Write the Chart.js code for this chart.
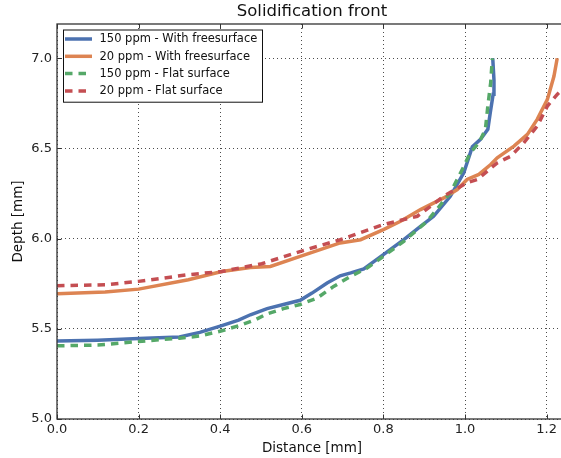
<!DOCTYPE html>
<html><head><meta charset="utf-8">
<style>
html,body{margin:0;padding:0;overflow:hidden;background:#fff;width:561px;height:458px}
#wrap{width:567px;height:458px}
canvas{display:block}
</style>
<script src="https://cdn.jsdelivr.net/npm/chart.js@4.4.1/dist/chart.umd.min.js"></script>
</head><body><div id="wrap"><canvas id="c" width="567" height="458"></canvas></div>
<script>
// ---- data ----
const chartTitle = 'Solidification front';
const xAxisLabel = 'Distance [mm]';
const yAxisLabel = 'Depth [mm]';
const seriesNames = ['150 ppm - With freesurface', '20 ppm - With freesurface', '150 ppm - Flat surface', '20 ppm - Flat surface'];
const xTickValues = [0.0, 0.2, 0.4, 0.6, 0.8, 1.0, 1.2];
const yTickValues = [5.0, 5.5, 6.0, 6.5, 7.0];

const free150X = [0, 0.1, 0.2, 0.3, 0.35, 0.404, 0.445, 0.474, 0.515, 0.555, 0.596, 0.625, 0.662, 0.694, 0.72, 0.752, 0.80, 0.85, 0.891, 0.923, 0.964, 0.997, 1.018, 1.038, 1.056, 1.062, 1.069, 1.071, 1.068];
const free150Y = [5.433, 5.437, 5.446, 5.455, 5.48, 5.518, 5.548, 5.578, 5.612, 5.635, 5.658, 5.698, 5.754, 5.794, 5.81, 5.832, 5.911, 5.994, 6.068, 6.124, 6.235, 6.365, 6.51, 6.55, 6.606, 6.70, 6.80, 6.88, 7.0];

const free20X = [0, 0.118, 0.2, 0.322, 0.404, 0.474, 0.523, 0.596, 0.694, 0.744, 0.80, 0.842, 0.891, 0.948, 0.981, 1.005, 1.034, 1.063, 1.079, 1.12, 1.153, 1.177, 1.202, 1.218, 1.226];
const free20Y = [5.694, 5.704, 5.72, 5.772, 5.818, 5.84, 5.846, 5.902, 5.976, 5.994, 6.05, 6.096, 6.161, 6.226, 6.272, 6.328, 6.356, 6.411, 6.448, 6.513, 6.578, 6.661, 6.772, 6.90, 7.0];

const flat150X = [0, 0.1, 0.2, 0.3, 0.35, 0.404, 0.445, 0.486, 0.515, 0.555, 0.596, 0.637, 0.678, 0.719, 0.76, 0.80, 0.85, 0.907, 0.964, 0.997, 1.013, 1.034, 1.05, 1.056, 1.063, 1.067];
const flat150Y = [5.406, 5.41, 5.43, 5.448, 5.46, 5.489, 5.517, 5.55, 5.583, 5.612, 5.635, 5.67, 5.735, 5.79, 5.837, 5.902, 5.985, 6.096, 6.254, 6.40, 6.476, 6.531, 6.606, 6.735, 6.865, 7.0];

const flat20X = [0, 0.118, 0.2, 0.322, 0.404, 0.502, 0.605, 0.694, 0.80, 0.883, 0.948, 1.005, 1.03, 1.079, 1.112, 1.144, 1.177, 1.202, 1.226, 1.25];
const flat20Y = [5.739, 5.744, 5.763, 5.80, 5.818, 5.861, 5.935, 5.994, 6.078, 6.124, 6.235, 6.31, 6.328, 6.42, 6.457, 6.531, 6.624, 6.735, 6.80, 6.85];

// ---- styles ----
const FONT = "'DejaVu Sans', 'Liberation Sans', sans-serif";
const seriesColors = ['#4c72b0', '#dd8452', '#55a868', '#c44e52'];
const dashPattern = [7.5, 6];
const frameColor = '#333';

const toPts = (xs, ys) => xs.map((x, i) => ({x: x, y: ys[i]}));
const seriesData = [toPts(free150X, free150Y), toPts(free20X, free20Y), toPts(flat150X, flat150Y), toPts(flat20X, flat20Y)];
const seriesDashed = [false, false, true, true];

const datasets = seriesData.map((d, i) => ({
  label: seriesNames[i],
  data: d,
  showLine: true,
  borderColor: seriesColors[i],
  backgroundColor: seriesColors[i],
  borderWidth: 3.5,
  borderDash: seriesDashed[i] ? dashPattern : [],
  pointRadius: 0,
  pointHoverRadius: 0,
  tension: 0,
  fill: false,
  order: 3 - i
}));

const framePlugin = {
  id: 'frame',
  afterDatasetsDraw(chart) {
    const {ctx, chartArea: a, scales} = chart;
    ctx.save();
    ctx.strokeStyle = frameColor;
    ctx.lineWidth = 1.3;
    ctx.setLineDash([]);
    ctx.strokeRect(a.left, a.top, a.right - a.left, a.bottom - a.top);
    ctx.lineWidth = 1;
    const tl = 4.5;
    scales.x.ticks.forEach(t => {
      const px = Math.round(scales.x.getPixelForValue(t.value)) + 0.5;
      ctx.beginPath();
      ctx.moveTo(px, a.bottom); ctx.lineTo(px, a.bottom - tl);
      ctx.moveTo(px, a.top); ctx.lineTo(px, a.top + tl);
      ctx.stroke();
    });
    scales.y.ticks.forEach(t => {
      const py = Math.round(scales.y.getPixelForValue(t.value)) + 0.5;
      ctx.beginPath();
      ctx.moveTo(a.left, py); ctx.lineTo(a.left + tl, py);
      ctx.moveTo(a.right, py); ctx.lineTo(a.right - tl, py);
      ctx.stroke();
    });
    ctx.restore();
  }
};

const legendPlugin = {
  id: 'boxLegend',
  afterDraw(chart) {
    const {ctx, chartArea: a} = chart;
    const ds = chart.data.datasets;
    const x0 = a.left + 6, y0 = a.top + 5.5, w = 199, rowH = 17.3;
    const h = rowH * ds.length + 3;
    ctx.save();
    ctx.fillStyle = '#fff';
    ctx.fillRect(x0, y0, w, h);
    ctx.strokeStyle = '#111';
    ctx.lineWidth = 1;
    ctx.strokeRect(x0 + 0.5, y0 + 0.5, w, h);
    ctx.font = '11.5px ' + FONT;
    ctx.textBaseline = 'middle';
    ds.forEach((d, i) => {
      const cy = y0 + 9.5 + i * rowH;
      ctx.strokeStyle = d.borderColor;
      ctx.lineWidth = 3.5;
      ctx.setLineDash(d.borderDash || []);
      ctx.beginPath();
      ctx.moveTo(x0 + 2, cy); ctx.lineTo(x0 + 29, cy);
      ctx.stroke();
      ctx.setLineDash([]);
      ctx.fillStyle = '#111';
      ctx.fillText(d.label, x0 + 36.5, cy + 0.5);
    });
    ctx.restore();
  }
};

new Chart(document.getElementById('c'), {
  type: 'scatter',
  data: {datasets: datasets},
  plugins: [framePlugin, legendPlugin],
  options: {
    responsive: false,
    animation: false,
    devicePixelRatio: 1,
    layout: {padding: {left: 0, right: 0, top: 0, bottom: 0}},
    plugins: {
      legend: {display: false},
      tooltip: {enabled: false},
      title: {
        display: true, text: chartTitle, fullSize: false,
        color: '#111',
        font: {family: FONT, size: 16.5, weight: 'normal'},
        padding: {top: 2, bottom: 2.2}
      }
    },
    scales: {
      x: {
        type: 'linear', min: 0, max: 1.25,
        afterBuildTicks: s => { s.ticks = xTickValues.map(v => ({value: v})); },
        afterFit: s => { s.height = 39; },
        ticks: {
          color: '#222', padding: 3,
          font: {family: FONT, size: 13},
          callback: v => Number(v).toFixed(1),
          maxRotation: 0
        },
        grid: {color: 'rgba(0,0,0,0.7)', lineWidth: 1, drawTicks: false},
        border: {display: false, dash: [1, 3]},
        title: {display: true, text: xAxisLabel, color: '#111',
          font: {family: FONT, size: 13.5}, padding: {top: 0, bottom: 1.5}}
      },
      y: {
        type: 'linear', min: 5.0, max: 7.19,
        afterBuildTicks: s => { s.ticks = yTickValues.map(v => ({value: v})); },
        afterFit: s => { s.width = 57; },
        ticks: {
          color: '#222', padding: 5,
          font: {family: FONT, size: 13},
          callback: v => Number(v).toFixed(1)
        },
        grid: {color: 'rgba(0,0,0,0.7)', lineWidth: 1, drawTicks: false},
        border: {display: false, dash: [1, 3]},
        title: {display: true, text: yAxisLabel, color: '#111',
          font: {family: FONT, size: 13.5}, padding: {top: 10, bottom: 0}}
      }
    }
  }
});
</script>
</body></html>
